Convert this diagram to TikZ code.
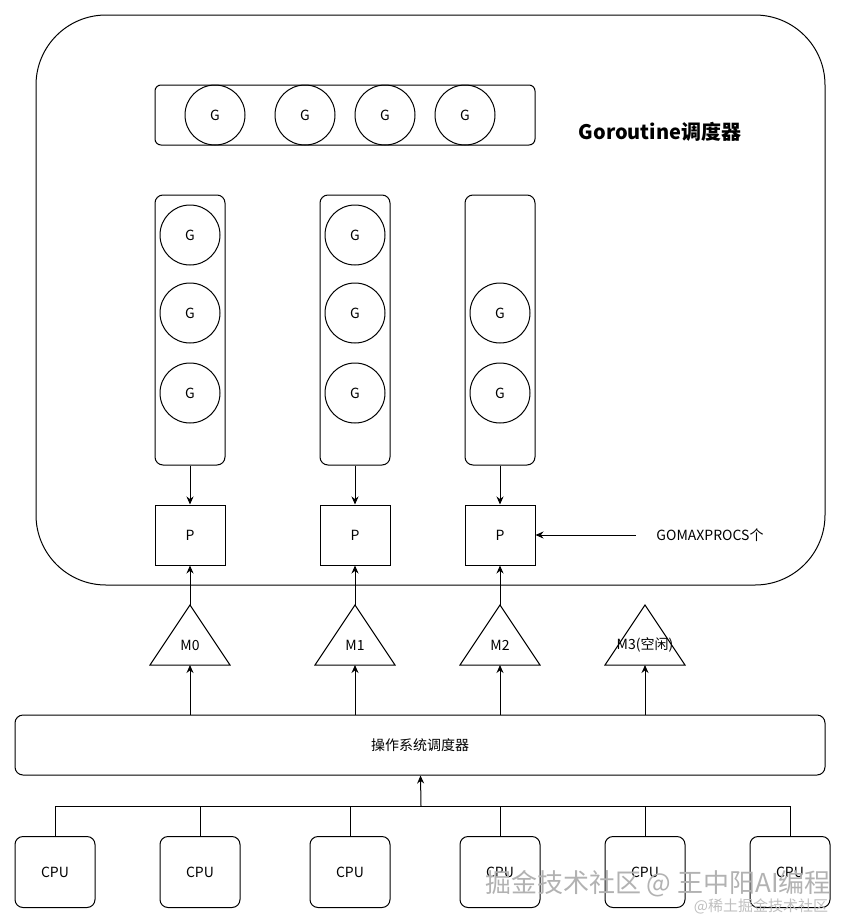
\documentclass[tikz,border=0pt]{standalone}
\usepackage{fontspec}
\setmainfont{Noto Sans CJK SC}
\usetikzlibrary{arrows.meta}

\newcommand{\mthread}[3]{
\coordinate (#1-top) at (#2,605);
\coordinate (#1-base) at (#2,665);
\draw (#2-40,665) -- (#1-top) -- (#2+40,665) -- cycle;
\node (#1) at (#2,645) {#3};
}

\begin{document}
\begin{tikzpicture}[x=1pt,y=-1pt,line width=1pt,
  >={Stealth[length=8pt,width=7pt]},
  every node/.style={font=\fontsize{14}{16}\selectfont},
  gnode/.style={circle,draw,minimum size=60pt,inner sep=0pt},
  box/.style={draw,rounded corners=8pt}]
\useasboundingbox (0,0) rectangle (846,921);

\node[draw,rounded corners=70pt,minimum width=789pt,minimum height=570pt] (sched) at (430.5,300) {};

\node[box,rounded corners=6pt,minimum width=380pt,minimum height=60pt] (gq) at (345,115) {};
\foreach \x [count=\i] in {215,305,385,465}
    \node[gnode] (g\i) at (\x,115) {G};
\node[font=\fontsize{20}{22}\selectfont\bfseries] (title) at (660,132) {Goroutine调度器};

\foreach \x [count=\i from 0] in {190,355,500}{
    \node[box,minimum width=70pt,minimum height=270pt] (lq\i) at (\x,330) {};
    \node[draw,minimum width=70pt,minimum height=60pt] (p\i) at (\x,535) {P};
    \draw[->] (lq\i) -- (p\i);
}

\foreach \y [count=\j] in {235,313,393}{
    \node[gnode] (lg0\j) at (190,\y) {G};
    \node[gnode] (lg1\j) at (355,\y) {G};
}
\foreach \y [count=\j] in {313,393}
    \node[gnode] (lg2\j) at (500,\y) {G};

\node (gmp) at (710,535) {GOMAXPROCS个};
\draw[->] ([xshift=-17pt]gmp.west) -- (p2);

\mthread{m0}{190}{M0}
\mthread{m1}{355}{M1}
\mthread{m2}{500}{M2}
\mthread{m3}{645}{M3(空闲)}

\foreach \i in {0,1,2}
    \draw[->] (m\i-top) -- (p\i);

\node[box,minimum width=810pt,minimum height=60pt] (os) at (420,745) {操作系统调度器};
\foreach \i in {0,...,3}
    \draw[->] (os.north -| m\i-base) -- (m\i-base);

\coordinate (bus) at (421,806);
\foreach \x [count=\i] in {55,200,350,500,645,790}{
    \node[box,minimum width=80pt,minimum height=71pt] (cpu\i) at (\x,872) {CPU};
    \draw (cpu\i.north) -- (cpu\i.north |- bus);
}
\draw (cpu1.north |- bus) -- (cpu6.north |- bus);
\draw[->] (bus) -- (os);

\node[font=\fontsize{26}{28}\selectfont,text=gray!60] (wm) at (658,884) {掘金技术社区 @ 王中阳AI编程};
\node[font=\fontsize{15}{17}\selectfont,text=gray!50] (wm2) at (761,906) {@稀土掘金技术社区};

\end{tikzpicture}
\end{document}
